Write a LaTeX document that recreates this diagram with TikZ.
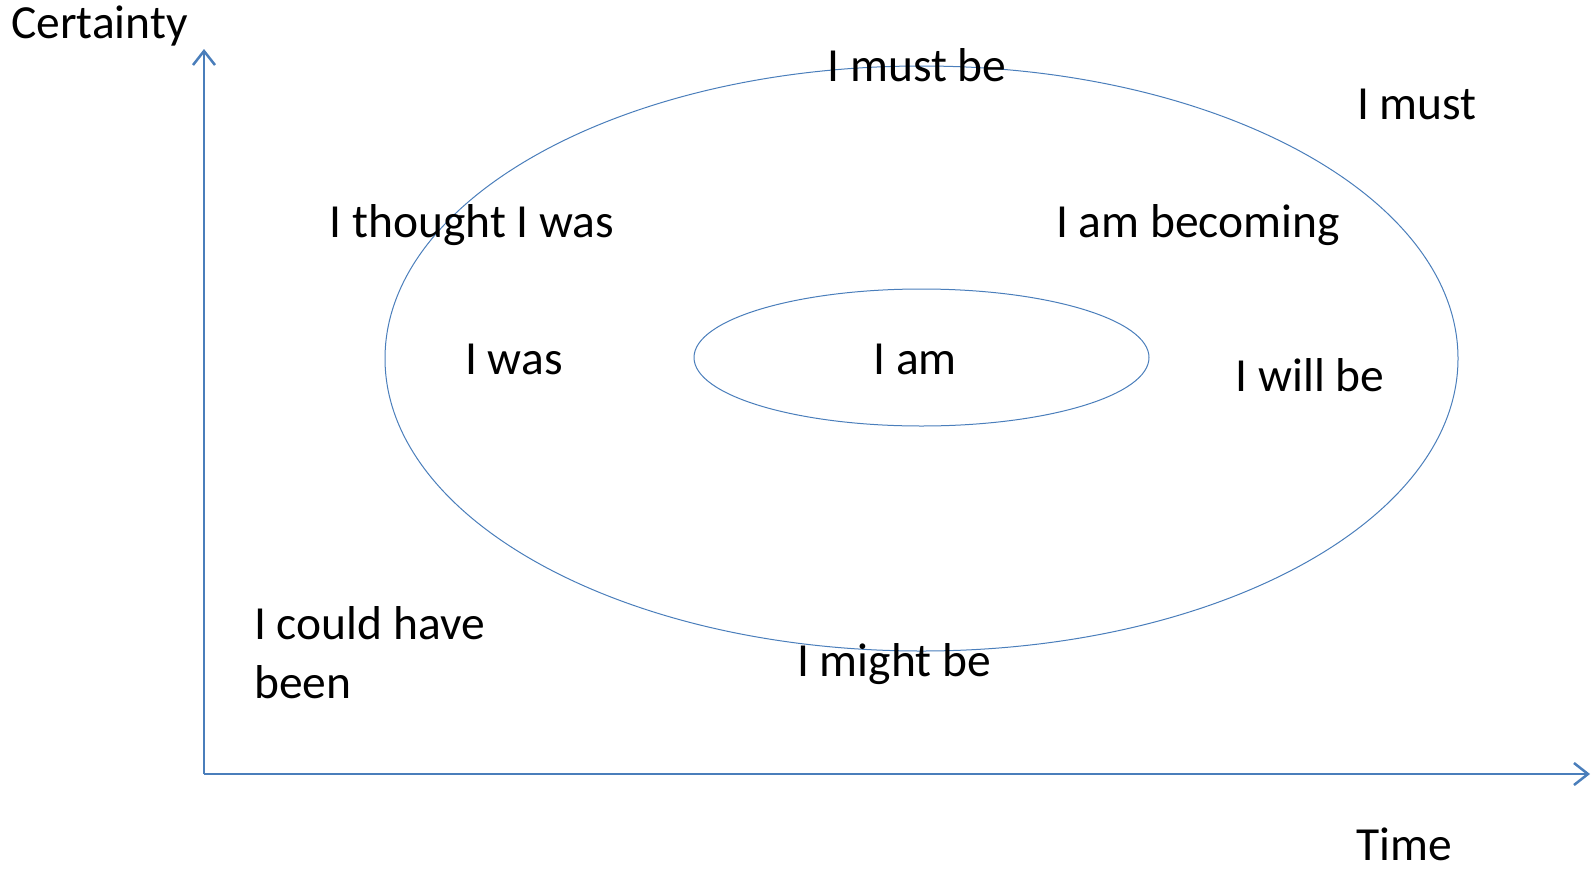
\documentclass[tikz,border=0pt]{standalone}
\usepackage{fontspec}
\setmainfont{Carlito}
\usetikzlibrary{arrows.meta,positioning}
\definecolor{axisblue}{HTML}{4A7EBB}
\tikzset{
  word/.style={font=\fontsize{47.5}{59}\selectfont, inner sep=0pt, text=black},
  axis/.style={draw=axisblue, line width=2.5pt, -{Straight Barb[length=14pt,width=22pt,line width=2.5pt]}},
  ring/.style={draw=axisblue, line width=1pt},
}

\begin{document}
\begin{tikzpicture}[x=1pt, y=-1pt]
\useasboundingbox (0,0) rectangle (1592,868);

% Axes
\coordinate (origin) at (204,774);
\coordinate (ytop) at (204,49);
\coordinate (xend) at (1590,774);
\draw[axis] (origin) -- (ytop);
\draw[axis] (origin) -- (xend);
\node[word, anchor=west] (certainty) at (11,26) {Certainty};
\node[word] (time) at (1404,844) {Time};

% Rings
\draw[ring] (921.5,358.5) ellipse (536.5 and 292.5);
\draw[ring] (921.5,357.5) ellipse (227.5 and 68.5);

% Labels
\node[word] (mustbe) at (917,65) {I must be};
\node[word] (must) at (1417,104) {I must};
\node[word] (thought) at (472,225) {I thought I was};
\node[word] (becoming) at (1198,225) {I am becoming};
\node[word] (was) at (514,359) {I was};
\node[word] (am) at (915,359) {I am};
\node[word] (willbe) at (1310,375) {I will be};
\node[word, anchor=west, align=left] (couldhave) at (254,653) {I could have\\been};
\node[word] (mightbe) at (894,664) {I might be};

\end{tikzpicture}
\end{document}
